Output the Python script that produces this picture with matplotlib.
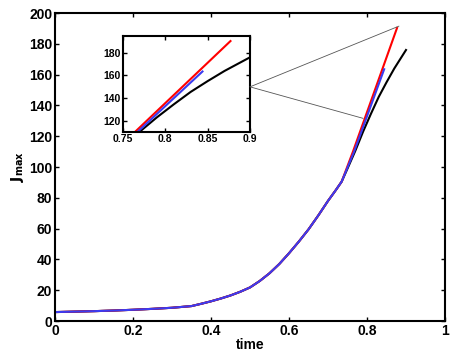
import matplotlib
matplotlib.use("Agg")
import matplotlib.pyplot as plt
from matplotlib.patches import ConnectionPatch

plt.rcParams['font.family'] = ['Liberation Sans', 'DejaVu Sans']
plt.rcParams['font.weight'] = 'bold'

# shared part of the three runs (up to the kink)
t_common = [0.0, 0.05, 0.1, 0.15, 0.2, 0.25, 0.3, 0.35, 0.375, 0.4, 0.425,
            0.45, 0.475, 0.5, 0.525, 0.55, 0.575, 0.6, 0.625, 0.65, 0.675,
            0.7, 0.72, 0.735]
J_common = [5.8, 6.1, 6.4, 6.8, 7.3, 7.9, 8.6, 9.7, 11.2, 12.8, 14.6,
            16.6, 19.0, 21.8, 26.0, 31.0, 37.0, 44.0, 51.5, 59.5, 68.5,
            78.0, 85.0, 90.5]

# branches after the kink
t_black = [0.75, 0.77, 0.79, 0.81, 0.83, 0.85, 0.87, 0.885, 0.9]
J_black = [99.0, 110.5, 123.0, 134.5, 145.5, 155.0, 164.0, 170.0, 176.0]
t_red = [0.764, 0.877]
J_red = [110.0, 190.3]
t_blue = [0.767, 0.844]
J_blue = [110.0, 163.5]

# zoom link targets in the main axes
link_pts = [(0.882, 191.5), (0.79, 131.6)]
inset_anchor = (0.9, 150)

runs = [
    (t_black, J_black, 'black'),
    (t_red, J_red, '#ff0000'),
    (t_blue, J_blue, '#3b3bf0'),
]

fig = plt.figure(figsize=(4.52, 3.57), dpi=100)
ax = fig.add_axes([0.1217, 0.1008, 0.8628, 0.8627])
ins = fig.add_axes([0.2715, 0.6294, 0.2816, 0.2706])

for a in (ax, ins):
    for t, J, c in runs:
        a.plot(t_common + t, J_common + J, color=c, lw=1.5)
    a.tick_params(direction='in', top=True, right=True, width=1.0, length=3)
    for s in a.spines.values():
        s.set_linewidth(1.5)

ax.set_xlim(0, 1)
ax.set_ylim(0, 200)
ax.set_xticks([0, 0.2, 0.4, 0.6, 0.8, 1])
ax.set_xticklabels(['0', '0.2', '0.4', '0.6', '0.8', '1'])
ax.set_yticks(range(0, 201, 20))
ax.tick_params(labelsize=10, pad=2)
ax.set_xlabel('time', fontsize=10, fontweight='bold', labelpad=0)
ax.set_ylabel(r'$\mathbf{J_{max}}$', fontsize=10, labelpad=2)

ins.set_xlim(0.75, 0.9)
ins.set_ylim(110, 195)
ins.set_xticks([0.75, 0.8, 0.85, 0.9])
ins.set_xticklabels(['0.75', '0.8', '0.85', '0.9'])
ins.set_yticks([120, 140, 160, 180])
ins.tick_params(labelsize=7.5, pad=1.5)

for p in link_pts:
    con = ConnectionPatch(xyA=inset_anchor, coordsA=ins.transData,
                          xyB=p, coordsB=ax.transData,
                          color='#555555', lw=0.6)
    fig.add_artist(con)

fig.savefig('out.png', dpi=100)
